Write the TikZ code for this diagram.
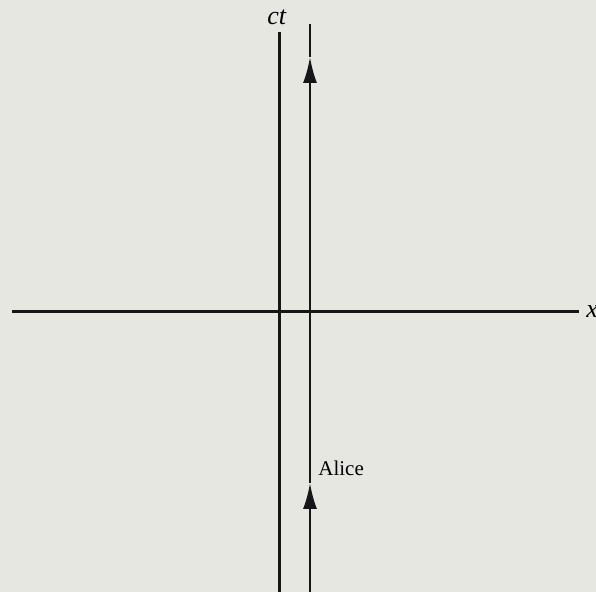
\documentclass[tikz,border=0pt]{standalone}
\usepackage{fontspec}
\setmainfont{Liberation Serif}
\definecolor{paper}{RGB}{231,231,225}
\definecolor{ink}{RGB}{22,22,22}
\usetikzlibrary{arrows.meta,positioning}

\begin{document}
\begin{tikzpicture}[x=0.5pt,y=-0.5pt,
    axis/.style={draw=ink, line width=1.5pt},
    worldline/.style={draw=ink, line width=1.1pt},
    tip/.style={-{Latex[length=13pt,width=7pt]}},
    axlabel/.style={inner sep=0pt, anchor=base west, font=\fontsize{13}{15}\selectfont\itshape}]
  \fill[paper] (0,0) rectangle (596,592);
  \useasboundingbox (0,0) rectangle (596,592);
  % axes
  \coordinate (xl) at (12,312);
  \coordinate (xr) at (579,312);
  \coordinate (tb) at (279,592);
  \coordinate (tt) at (279,32);
  \draw[axis] (xl) -- (xr);
  \draw[axis] (tb) -- (tt);
  \node[axlabel] (ctlab) at (267,25) {ct};
  \node[axlabel] (xlab) at (586,318) {x};
  % Alice
  \coordinate (ab) at (310,592);
  \coordinate (am1) at (310,483);
  \coordinate (am2) at (310,57);
  \coordinate (at) at (310,24);
  \draw[worldline, tip] (ab) -- (am1);
  \draw[worldline, tip] (am1) -- (am2);
  \draw[worldline] (am2) -- (at);
  \node[inner sep=0pt, anchor=base west, font=\fontsize{10.5}{12}\selectfont] (alice) at (318,476) {Alice};
\end{tikzpicture}
\end{document}
